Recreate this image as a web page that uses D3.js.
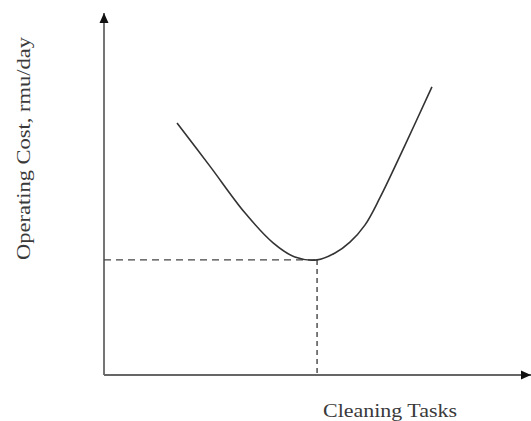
<!DOCTYPE html>
<html><head><meta charset="utf-8">
<script src="https://cdn.jsdelivr.net/npm/d3@7"></script>
<style>html,body{margin:0;padding:0;background:#fff;}svg{display:block;}</style>
</head><body>
<script>
// Data (arbitrary units, 0-100)
const tasks = [17.1, 24.8, 33.0, 39.6, 44.7, 49.9, 54.1, 57.6, 61.1, 64.6, 70.5, 76.8];
const cost  = [69.6, 57.7, 44.8, 36.5, 32.6, 31.8, 33.7, 36.7, 41.4, 48.9, 63.5, 79.6];
const optimumTask = [49.9];
const optimumCost = [31.8];
const xLabel = "Cleaning Tasks";
const yLabel = "Operating Cost, rmu/day";

const W = 531, H = 421;
const svg = d3.select("body").append("svg").attr("width", W).attr("height", H);
const x = d3.scaleLinear().domain([0, 100]).range([104, 531]);
const y = d3.scaleLinear().domain([0, 100]).range([375, 13]);

const defs = svg.append("defs");
defs.append("marker").attr("id","arr").attr("viewBox","0 0 10 10")
  .attr("refX",10).attr("refY",5).attr("markerWidth",10).attr("markerHeight",10)
  .attr("markerUnits","userSpaceOnUse").attr("orient","auto")
  .append("path").attr("d","M0,0.5 L10,5 L0,9.5 Z").attr("fill","#111");

// axes
svg.append("line").attr("x1", x(0)).attr("y1", y(0)).attr("x2", x(0)).attr("y2", y(100))
  .attr("stroke","#666").attr("stroke-width",1.8).attr("marker-end","url(#arr)");
svg.append("line").attr("x1", x(0)).attr("y1", y(0)).attr("x2", x(100)).attr("y2", y(0))
  .attr("stroke","#666").attr("stroke-width",1.8).attr("marker-end","url(#arr)");

// dashed guide lines
svg.append("line").attr("x1", x(0)).attr("y1", y(optimumCost[0])).attr("x2", x(optimumTask[0])).attr("y2", y(optimumCost[0]))
  .attr("stroke","#444").attr("stroke-width",1.4).attr("stroke-dasharray","7,5");
svg.append("line").attr("x1", x(optimumTask[0])).attr("y1", y(optimumCost[0])).attr("x2", x(optimumTask[0])).attr("y2", y(0))
  .attr("stroke","#444").attr("stroke-width",1.4).attr("stroke-dasharray","5,4");

// curve
const pts = tasks.map((t,i)=>[t,cost[i]]);
const line = d3.line().x(d=>x(d[0])).y(d=>y(d[1])).curve(d3.curveCatmullRom.alpha(0.5));
svg.append("path").datum(pts).attr("d", line).attr("fill","none")
  .attr("stroke","#333").attr("stroke-width",1.6);

// labels
const ff = "'Liberation Serif', 'Times New Roman', serif";
svg.append("text").attr("x", 390).attr("y", 417).attr("text-anchor","middle")
  .attr("font-family",ff).attr("font-size",19)
  .attr("fill","#3a3a3a").attr("textLength",134).attr("lengthAdjust","spacingAndGlyphs").text(xLabel);
svg.append("text").attr("transform","translate(30,148.5) rotate(-90)").attr("text-anchor","middle")
  .attr("font-family",ff).attr("font-size",19)
  .attr("fill","#3a3a3a").attr("textLength",223).attr("lengthAdjust","spacingAndGlyphs").text(yLabel);
</script>
</body></html>
